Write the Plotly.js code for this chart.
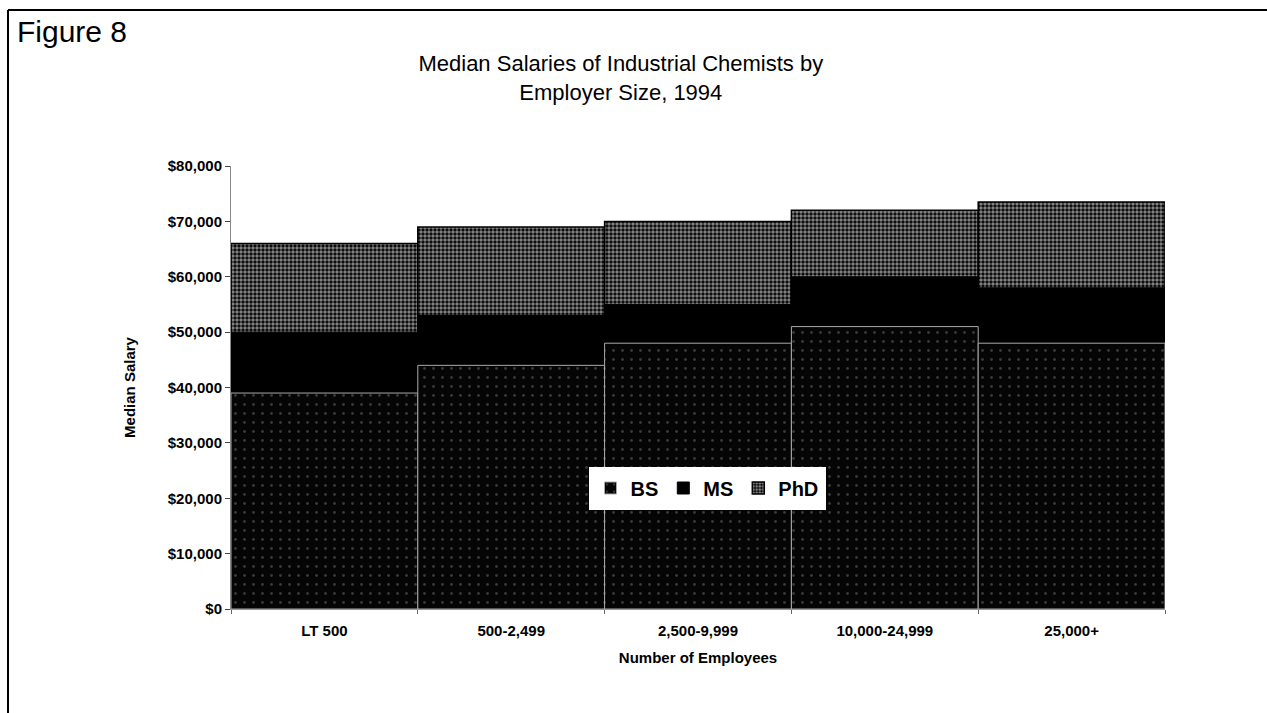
<!DOCTYPE html>
<html>
<head>
<meta charset="utf-8">
<script src="https://cdn.plot.ly/plotly-3.0.1.min.js"></script>
<style>
html,body{margin:0;padding:0;background:#fff;}
#chart{width:1267px;height:713px;}
</style>
</head>
<body>
<div id="chart"></div>
<script>
const categories = ["LT 500", "500-2,499", "2,500-9,999", "10,000-24,999", "25,000+"];
const bsValues  = [39000, 44000, 48000, 51000, 48000];
const msValues  = [50000, 53000, 55000, 60000, 58000];
const phdValues = [66000, 69000, 70000, 72000, 73500];
const seriesNames = ["BS", "MS", "PhD"];
const yTickVals = [0, 10000, 20000, 30000, 40000, 50000, 60000, 70000, 80000];
const yTickText = ["$0", "$10,000", "$20,000", "$30,000", "$40,000", "$50,000", "$60,000", "$70,000", "$80,000"];

const FONT = "Liberation Sans, Arial, Helvetica, sans-serif";

const traces = [
  {
    type: "bar", name: seriesNames[2], x: categories, y: phdValues,
    marker: {
      color: "#000",
      line: {color: "#000", width: 1.5},
      pattern: {shape: ".", fgcolor: "#ffffff", bgcolor: "#000000", size: 4, solidity: 0.6, fillmode: "overlay"}
    },
    hoverinfo: "x+y+name"
  },
  {
    type: "bar", name: seriesNames[1], x: categories, y: msValues,
    marker: {color: "#000", line: {color: "#000", width: 1}},
    hoverinfo: "x+y+name"
  },
  {
    type: "bar", name: seriesNames[0], x: categories, y: bsValues,
    marker: {
      color: "#050505",
      line: {color: "#aaaaaa", width: 1},
      pattern: {shape: ".", fgcolor: "#6a6a6a", bgcolor: "#050505", size: 9, solidity: 0.08, fillmode: "overlay"}
    },
    hoverinfo: "x+y+name"
  }
];

const layout = {
  width: 1267, height: 713,
  margin: {l: 231, r: 102, t: 166, b: 104},
  paper_bgcolor: "#fff", plot_bgcolor: "#fff",
  barmode: "overlay", bargap: 0,
  font: {family: FONT, color: "#000"},
  title: {
    text: "Median Salaries of Industrial Chemists by<br>Employer Size, 1994",
    font: {family: FONT, size: 22, color: "#000"},
    xref: "container", x: 0.49, xanchor: "center",
    yref: "container", y: 0.9, yanchor: "top"
  },
  xaxis: {
    type: "category",
    tickson: "boundaries",
    ticks: "outside", ticklen: 4, tickcolor: "#666", tickwidth: 1,
    ticklabelstandoff: 8,
    showgrid: false, showline: true, linecolor: "#999", linewidth: 1,
    tickfont: {family: FONT, size: 15, weight: "bold"},
    title: {text: "Number of Employees", font: {family: FONT, size: 15, weight: "bold"}, standoff: 14}
  },
  yaxis: {
    range: [0, 80000],
    tickmode: "array", tickvals: yTickVals, ticktext: yTickText,
    ticks: "outside", ticklen: 5, tickcolor: "#444", tickwidth: 1,
    showgrid: false, zeroline: false,
    showline: true, linecolor: "#888", linewidth: 1,
    tickfont: {family: FONT, size: 15, weight: "bold"},
    title: {text: "Median Salary", font: {family: FONT, size: 15, weight: "bold"}, standoff: 28}
  },
  legend: {
    orientation: "h",
    x: (707 - 231) / 934, y: (609 - 488) / 443, xanchor: "center", yanchor: "middle",
    bgcolor: "#fff", bordercolor: "#fff", borderwidth: 2,
    traceorder: "reversed",
    font: {family: FONT, size: 20, weight: "bold"},
    itemwidth: 30
  },
  showlegend: true,
  annotations: [
    {
      text: "Figure 8", xref: "paper", yref: "paper",
      x: (15 - 231) / 934, y: (609 - 31) / 443,
      xanchor: "left", yanchor: "middle", showarrow: false,
      font: {family: FONT, size: 30, color: "#000"}
    }
  ],
  shapes: [
    {type: "line", xref: "paper", yref: "paper",
     x0: (8 - 231) / 934, x1: (1267 - 231) / 934,
     y0: (609 - 10) / 443, y1: (609 - 10) / 443,
     line: {color: "#000", width: 2}},
    {type: "line", xref: "paper", yref: "paper",
     x0: (8 - 231) / 934, x1: (8 - 231) / 934,
     y0: (609 - 10) / 443, y1: (609 - 713) / 443,
     line: {color: "#000", width: 2}}
  ]
};

Plotly.newPlot("chart", traces, layout, {displayModeBar: false, staticPlot: true});
</script>
</body>
</html>
